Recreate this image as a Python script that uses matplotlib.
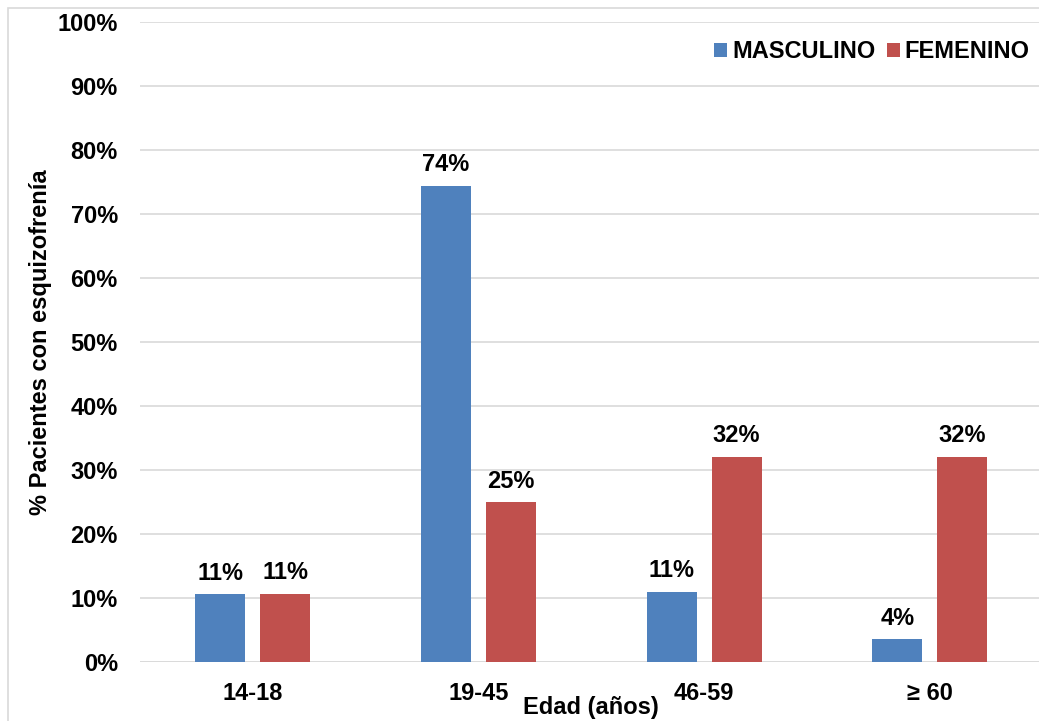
import matplotlib
matplotlib.use("Agg")
import matplotlib.pyplot as plt
from matplotlib.patches import Rectangle
import numpy as np

plt.rcParams["font.family"] = ["Liberation Sans", "DejaVu Sans"]
plt.rcParams["font.weight"] = "bold"

categories = ["14-18", "19-45", "46-59", "≥ 60"]
masculino = [10.6, 74.4, 11.0, 3.6]
femenino = [10.7, 25.0, 32.1, 32.1]
series_names = ["MASCULINO", "FEMENINO"]
yticks = [0, 10, 20, 30, 40, 50, 60, 70, 80, 90, 100]

BLUE = "#4F81BD"
RED = "#C0504D"
GRID = "#D9D9D9"
FS = 17

W, H = 1039, 721
fig = plt.figure(figsize=(W / 100, H / 100), dpi=100)

# light frame around the chart area
fig.patches.append(Rectangle((8 / W, -0.1), 1.2, 1 - 8 / H + 0.1,
                             transform=fig.transFigure, fill=False,
                             edgecolor="#D9D9D9", linewidth=1.2, zorder=0))

ax = fig.add_axes([140 / W, (H - 662.3) / H, (1042.5 - 140) / W, 640 / H])

x = np.arange(len(categories))
bw = 0.222
off = 0.144
b1 = ax.bar(x - off, masculino, bw, color=BLUE, label=series_names[0], zorder=3)
b2 = ax.bar(x + off, femenino, bw, color=RED, label=series_names[1], zorder=3)

for bars, vals in ((b1, masculino), (b2, femenino)):
    for rect, v in zip(bars, vals):
        ax.annotate(f"{v:.0f}%", (rect.get_x() + rect.get_width() / 2, v),
                    xytext=(0, 7), textcoords="offset points",
                    ha="center", va="bottom", fontsize=FS, fontweight="bold")

ax.set_xlim(-0.5, len(categories) - 0.5)
ax.set_ylim(0, 100)
ax.set_yticks(yticks)
ax.set_yticklabels([f"{t}%" for t in yticks], fontsize=FS, fontweight="bold")
ax.set_xticks(x)
ax.set_xticklabels(categories, fontsize=FS, fontweight="bold")
ax.tick_params(axis="both", length=0)
ax.tick_params(axis="y", pad=16)
ax.tick_params(axis="x", pad=14)
ax.yaxis.grid(True, color=GRID, linewidth=1.2, zorder=0)
ax.set_axisbelow(True)
for s in ax.spines.values():
    s.set_visible(False)
ax.axhline(0, color=GRID, linewidth=1.2, zorder=2)

ax.set_xlabel("Edad (años)", fontsize=FS, fontweight="bold", labelpad=-6)
ax.set_ylabel("% Pacientes con esquizofrenía", fontsize=FS, fontweight="bold",
              labelpad=4)

leg = ax.legend(loc="upper right", bbox_to_anchor=(0.986, 0.972),
                ncol=2, frameon=False, handlelength=0.55, borderpad=0,
                borderaxespad=0, handleheight=0.55, handletextpad=0.2,
                columnspacing=0.5, prop={"weight": "bold", "size": FS})

fig.savefig("out.png", dpi=100)
